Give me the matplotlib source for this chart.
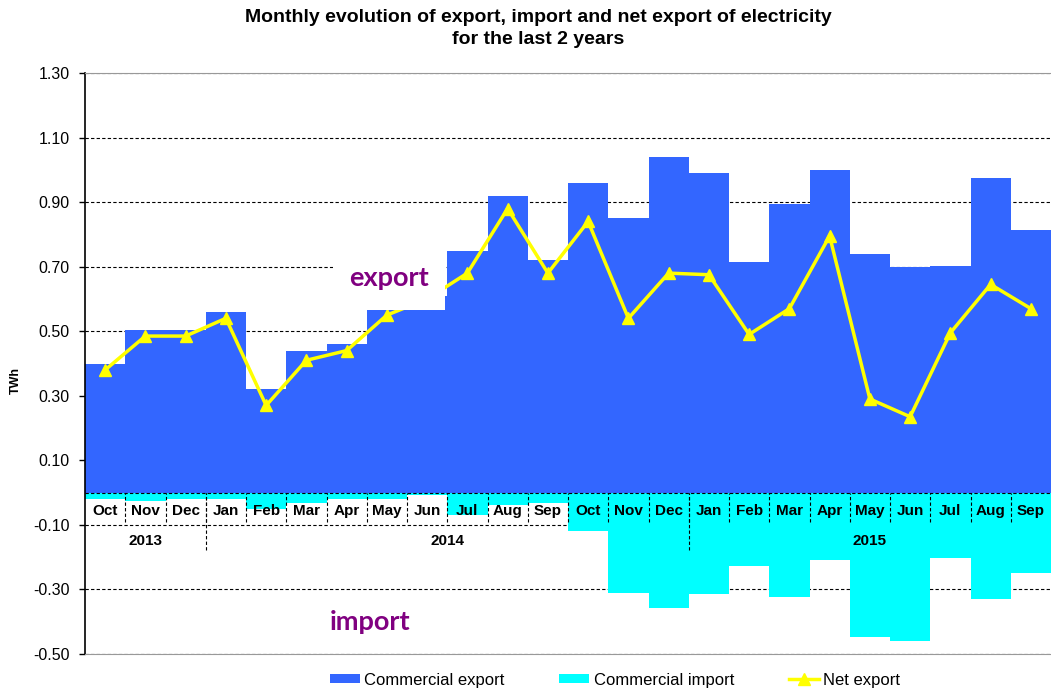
import numpy as np
import matplotlib
matplotlib.use('Agg')
import matplotlib.pyplot as plt
from matplotlib.patches import Patch, Rectangle
from matplotlib.lines import Line2D

plt.rcParams['font.family'] = ['Liberation Sans', 'DejaVu Sans']

# data (TWh), Oct 2013 .. Sep 2015
months = ['Oct', 'Nov', 'Dec', 'Jan', 'Feb', 'Mar', 'Apr', 'May', 'Jun', 'Jul', 'Aug', 'Sep',
          'Oct', 'Nov', 'Dec', 'Jan', 'Feb', 'Mar', 'Apr', 'May', 'Jun', 'Jul', 'Aug', 'Sep']
export = [0.40, 0.505, 0.505, 0.56, 0.32, 0.44, 0.46, 0.57, 0.61, 0.75, 0.92, 0.72,
          0.96, 0.85, 1.04, 0.99, 0.715, 0.895, 1.00, 0.74, 0.698, 0.702, 0.975, 0.815]
imports = [-0.02, -0.025, -0.02, -0.02, -0.052, -0.031, -0.02, -0.02, -0.006, -0.069, -0.038, -0.031,
           -0.119, -0.31, -0.358, -0.313, -0.227, -0.324, -0.209, -0.448, -0.46, -0.204, -0.33, -0.248]
net = [0.38, 0.485, 0.485, 0.54, 0.27, 0.41, 0.44, 0.55, 0.60, 0.68, 0.88, 0.68,
       0.84, 0.54, 0.68, 0.675, 0.49, 0.57, 0.795, 0.29, 0.235, 0.495, 0.645, 0.57]
years = ['2013', '2014', '2015']
year_first = [0, 3, 15]
year_last = [2, 14, 23]

BLUE = '#3366FF'
CYAN = '#00FFFF'
YELLOW = '#FFFF00'
PURPLE = '#800080'

x = np.arange(len(months))

fig = plt.figure(figsize=(10.51, 6.91), dpi=100)
ax = fig.add_axes([85/1051, 1-654/691, 1-85/1051, (654-73)/691])

ax.bar(x, export, width=1.0, color=BLUE, zorder=2)
ax.bar(x, imports, width=1.0, color=CYAN, zorder=2)
ax.plot(x, net, color=YELLOW, lw=2.5, marker='^', ms=8, zorder=3)

ax.set_xlim(-0.5, len(months)-0.5)
ax.set_ylim(-0.5, 1.3)
ax.set_yticks(np.arange(-0.5, 1.31, 0.2))
ax.yaxis.set_major_formatter(matplotlib.ticker.FormatStrFormatter('%.2f'))
ax.yaxis.grid(True, linestyle=(0, (3, 2)), color='black', lw=0.8)
ax.set_axisbelow(True)
ax.set_xticks([])
ax.tick_params(axis='y', direction='out', length=4, width=1, labelsize=11.5, pad=7)
ax.spines['right'].set_visible(False)
ax.spines['top'].set_color('#999999')
ax.spines['bottom'].set_color('#999999')
ax.spines['left'].set_linewidth(1.2)

# category axis drawn inside the plot
ax.axhline(0, color='black', lw=0.8, linestyle=(0, (3, 2)), zorder=4)
ax.vlines(x[:-1]+0.5, -0.09, 0, color='black', lw=0.8, linestyle=(0, (3, 2)), zorder=4)
for i, m in enumerate(months):
    ax.text(i, -0.057, m, ha='center', va='center', fontsize=11, fontweight='bold', zorder=5)
for y0, y1, yr in zip(year_first, year_last, years):
    ax.text((y0+y1)/2, -0.15, yr, ha='center', va='center', fontsize=11, fontweight='bold', zorder=5)
for y1 in year_last[:-1]:
    ax.vlines(y1+0.5, -0.178, 0, color='black', lw=0.8, linestyle=(0, (3, 2)), zorder=4)

# text boxes
ax.add_patch(Rectangle((5.65, 0.565), 2.79, 0.16, facecolor='white', edgecolor='none', zorder=4))
ax.text(7.06, 0.641, 'export', ha='center', va='baseline', fontsize=19.5, fontweight='bold',
        color=PURPLE, family='Lato', zorder=5)
ax.text(6.57, -0.426, 'import', ha='center', va='baseline', fontsize=19.5, fontweight='bold',
        color=PURPLE, family='Lato', zorder=5)

fig.text(16/1051, 1-380/691, 'TWh', rotation=90, ha='center', va='center', fontsize=9, fontweight='bold')
fig.text(538.5/1051, 1-18/691, 'Monthly evolution of export, import and net export of electricity',
         ha='center', va='center', fontsize=14, fontweight='bold')
fig.text(538.5/1051, 1-40/691, 'for the last 2 years',
         ha='center', va='center', fontsize=14, fontweight='bold')

handles = [Patch(facecolor=BLUE), Patch(facecolor=CYAN),
           Line2D([], [], color=YELLOW, lw=2.5, marker='^', ms=8)]
fig.legend(handles, ['Commercial export', 'Commercial import', 'Net export'], loc='center',
           bbox_to_anchor=(615/1051, 1-680/691), ncol=3, frameon=False, fontsize=12,
           handlelength=1.8, handleheight=0.5, handletextpad=0.25, columnspacing=3.3)

fig.savefig('out.png', dpi=100)
